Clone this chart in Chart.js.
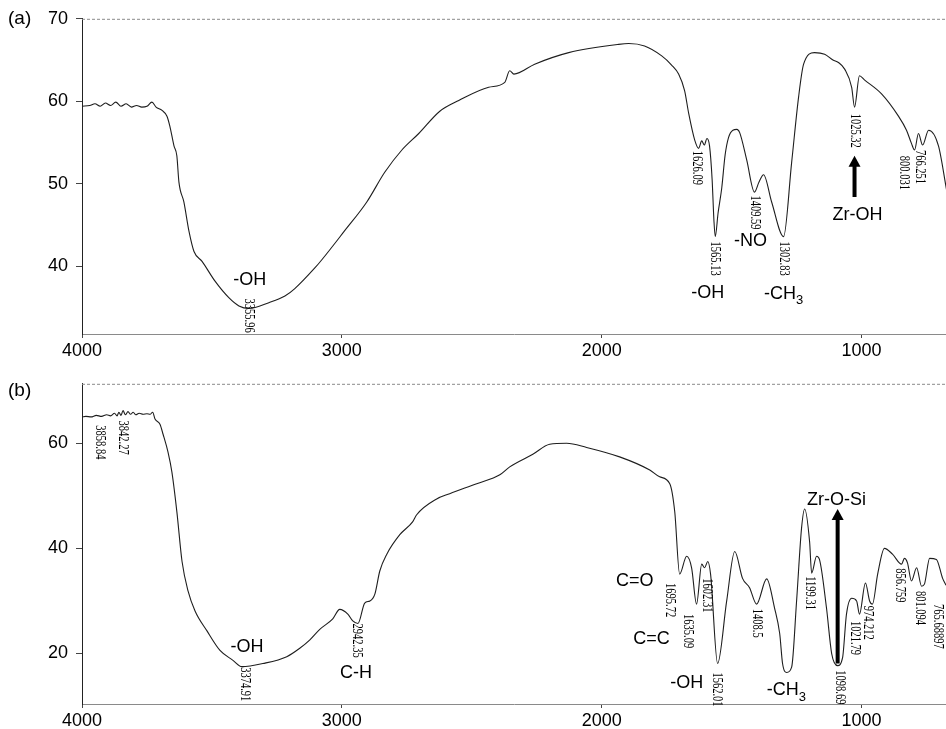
<!DOCTYPE html>
<html>
<head>
<meta charset="utf-8">
<style>
    html, body { margin: 0; padding: 0; background: #fff; }
    #wrap { position: relative; width: 946px; height: 729px; }
    canvas { position: absolute; left: 0; }
    #chartA { top: 0; }
    #chartB { top: 365px; }
</style>
</head>
<body>
<div id="wrap">
    <canvas id="chartA" width="946" height="365"></canvas>
    <canvas id="chartB" width="946" height="364"></canvas>
</div>
<script src="https://cdn.jsdelivr.net/npm/chart.js@4"></script>
<script>
    // x axis (wavenumber, cm-1) shared by both panels
    const xTicks = [4000, 3000, 2000, 1000];
    const xMin = 675, xMax = 4000;

    // (a) spectrum
    const waveA = [4000, 3970, 3950, 3930, 3910, 3890, 3870, 3850, 3830, 3810, 3790, 3770, 3750, 3731, 3715,
        3692, 3673, 3662, 3646, 3635, 3627, 3608, 3588, 3569, 3538, 3488, 3435, 3396, 3358, 3281, 3219, 3181,
        3104, 3077, 2992, 2904, 2835, 2769, 2704, 2623, 2550, 2435, 2373, 2354, 2338, 2258, 2127, 1935, 1896,
        1835, 1769, 1731, 1704, 1681, 1665, 1642, 1627, 1615, 1605, 1595, 1585, 1575, 1568, 1563, 1552, 1538,
        1525, 1512, 1495, 1480, 1469, 1442, 1412, 1395, 1377, 1346, 1300, 1269, 1242, 1223, 1181, 1142, 1110,
        1089, 1065, 1038, 1027, 1008, 989, 923, 858, 827, 808, 796, 781, 765, 742, 704, 673];
    const transA = [59.4, 59.5, 59.7, 59.4, 59.8, 59.5, 59.9, 59.4, 59.7, 59.3, 59.5, 59.3, 59.4, 59.9, 59.3,
        58.9, 58.2, 57.0, 54.6, 53.4, 50.2, 47.8, 44.2, 41.8, 40.6, 38.2, 36.2, 35.2, 34.9, 35.6, 36.4, 37.3,
        39.8, 40.8, 44.2, 47.8, 51.4, 54.1, 56.1, 58.8, 60.1, 61.7, 62.3, 63.7, 63.3, 64.5, 65.9, 66.9, 67.0,
        66.7, 65.5, 64.4, 63.3, 61.3, 58.5, 55.3, 54.3, 55.2, 54.7, 55.5, 54.6, 50.5, 45.5, 43.6, 46.5, 49.5,
        53.5, 55.6, 56.5, 56.6, 56.2, 52.9, 49.0, 50.2, 51.1, 47.8, 43.6, 52.6, 60.6, 64.5, 65.9, 65.7, 65.0,
        64.7, 63.9, 61.7, 59.3, 63.1, 62.6, 60.9, 58.2, 56.5, 54.9, 54.1, 56.1, 54.7, 56.5, 54.6, 49.3];
    const yTicksA = [40, 50, 60, 70];
    const yMinA = 31.8, yMaxA = 70;

    // (b) spectrum
    const waveB = [4000, 3985, 3965, 3945, 3925, 3905, 3890, 3875, 3865, 3858, 3850, 3842, 3833, 3823, 3813,
        3803, 3793, 3780, 3765, 3750, 3738, 3728, 3719, 3700, 3688, 3669, 3654, 3635, 3615, 3592, 3565, 3519,
        3469, 3419, 3385, 3304, 3212, 3162, 3123, 3085, 3035, 3008, 2977, 2958, 2938, 2912, 2892, 2873, 2854,
        2827, 2777, 2727, 2712, 2635, 2585, 2481, 2392, 2354, 2265, 2200, 2135, 2058, 1931, 1815, 1777, 1738,
        1719, 1700, 1673, 1654, 1635, 1615, 1604, 1592, 1581, 1554, 1519, 1488, 1458, 1431, 1404, 1365, 1335,
        1315, 1304, 1288, 1269, 1250, 1231, 1219, 1200, 1192, 1173, 1162, 1135, 1115, 1092, 1073, 1058, 1038,
        1019, 1008, 985, 969, 958, 938, 912, 881, 846, 835, 823, 808, 788, 769, 758, 738, 712, 688, 675];
    const transB = [65.0, 65.1, 65.0, 65.3, 65.1, 65.4, 65.2, 65.7, 65.2, 65.9, 65.3, 66.2, 65.4, 66.0, 65.5,
        65.9, 65.4, 65.7, 65.5, 65.6, 65.5, 65.9, 64.6, 63.6, 61.7, 58.3, 54.5, 47.0, 37.5, 31.9, 28.1, 24.3,
        20.6, 18.7, 17.5, 18.1, 19.4, 21.0, 22.6, 24.6, 26.6, 28.4, 27.5, 26.2, 25.7, 29.6, 30.0, 31.3, 35.7,
        38.9, 42.6, 45.1, 46.4, 49.4, 50.4, 52.3, 54.0, 55.5, 57.9, 59.8, 60.0, 59.2, 57.4, 54.9, 53.6, 52.3,
        47.0, 35.1, 38.5, 36.3, 29.4, 37.0, 36.3, 37.5, 35.1, 18.1, 30.0, 39.4, 34.3, 32.5, 29.4, 34.2, 28.7,
        23.8, 18.1, 16.4, 17.4, 30.0, 43.8, 47.5, 41.3, 35.3, 38.5, 37.9, 28.7, 20.0, 17.7, 19.2, 27.5, 30.5,
        30.0, 27.5, 33.4, 30.0, 29.4, 35.1, 40.0, 38.9, 37.0, 38.1, 37.2, 33.8, 36.3, 32.8, 33.2, 38.1, 37.9, 34.3, 33.0];
    const yTicksB = [20, 40, 60];
    const yMinB = 10.4, yMaxB = 71.3;

    // peak labels: [text, wavenumber, y at top of label]
    const peaksA = [['3355.96', 3358, 36.1], ['1626.09', 1635, 54.0], ['1565.13', 1565, 43.0],
        ['1409.59', 1412, 48.6], ['1302.83', 1300, 43.0], ['1025.32', 1027, 58.5],
        ['800.031', 838, 53.4], ['766.251', 777, 54.1]];
    const peaksB = [['3858.84', 3931, 63.4], ['3842.27', 3842, 64.3], ['3374.91', 3373, 17.4],
        ['2942.35', 2942, 25.7], ['1695.72', 1738, 33.4], ['1635.09', 1669, 27.5], ['1602.31', 1596, 34.3],
        ['1562.01', 1558, 16.4], ['1408.5', 1404, 28.5], ['1199.31', 1200, 34.7], ['1098.69', 1085, 16.8],
        ['1021.79', 1027, 26.2], ['974.212', 977, 29.1], ['856.759', 854, 36.2], ['801.094', 777, 31.9],
        ['765.68897', 708, 29.4]];

    // group labels: [text, subscript, wavenumber, y centre]
    const groupsA = [['-OH', '', 3354, 38.3], ['-OH', '', 1592, 36.8], ['-NO', '', 1427, 43.1],
        ['-CH', '3', 1300, 36.7], ['Zr-OH', '', 1016, 46.2]];
    const groupsB = [['-OH', '', 3365, 21.3], ['C-H', '', 2946, 16.2], ['C=O', '', 1873, 33.8],
        ['C=C', '', 1808, 22.8], ['-OH', '', 1673, 14.3], ['-CH', '3', 1289, 13.0], ['Zr-O-Si', '', 1096, 49.2]];

    // arrows: [wavenumber, y tail, y tip]
    const arrowA = [1027, 48.4, 53.4];
    const arrowB = [1092, 18.1, 47.5];

    const sans = '"Liberation Sans", Arial, sans-serif';

    // 주석 그리기 플러그인
    const annotate = {
        id: 'annotate',
        afterDraw(chart, args, opts) {
            const ctx = chart.ctx;
            const area = chart.chartArea;
            const x = chart.scales.x, y = chart.scales.y;
            ctx.save();

            // dotted top frame line
            ctx.strokeStyle = '#8a8a8a';
            ctx.lineWidth = 1;
            ctx.setLineDash([3, 2]);
            ctx.beginPath();
            ctx.moveTo(area.left, area.top + 0.5);
            ctx.lineTo(area.right, area.top + 0.5);
            ctx.stroke();
            ctx.setLineDash([]);

            ctx.fillStyle = '#000';
            ctx.font = '19px ' + sans;
            ctx.textAlign = 'left';
            ctx.textBaseline = 'middle';
            ctx.fillText(opts.letter, 8, opts.letterY);

            // rotated peak values
            ctx.font = '14px "Liberation Serif", serif';
            opts.peaks.forEach(p => {
                ctx.save();
                ctx.translate(x.getPixelForValue(p[1]), y.getPixelForValue(p[2]));
                ctx.rotate(Math.PI / 2);
                ctx.scale(0.75, 1);
                ctx.textAlign = 'left';
                ctx.textBaseline = 'middle';
                ctx.fillText(p[0], 0, 0);
                ctx.restore();
            });

            // functional group labels
            opts.groups.forEach(g => {
                const px = x.getPixelForValue(g[2]), py = y.getPixelForValue(g[3]);
                ctx.font = '18px ' + sans;
                const w1 = ctx.measureText(g[0]).width;
                ctx.font = '13px ' + sans;
                const w2 = g[1] ? ctx.measureText(g[1]).width : 0;
                const left = px - (w1 + w2) / 2;
                ctx.textAlign = 'left';
                ctx.textBaseline = 'middle';
                ctx.font = '18px ' + sans;
                ctx.fillText(g[0], left, py);
                if (g[1]) {
                    ctx.font = '13px ' + sans;
                    ctx.fillText(g[1], left + w1, py + 7);
                }
            });

            // thick arrow
            const a = opts.arrow;
            const ax = x.getPixelForValue(a[0]);
            const yTail = y.getPixelForValue(a[1]), yTip = y.getPixelForValue(a[2]);
            ctx.strokeStyle = '#000';
            ctx.lineWidth = 4;
            ctx.beginPath();
            ctx.moveTo(ax, yTail);
            ctx.lineTo(ax, yTip + 9);
            ctx.stroke();
            ctx.beginPath();
            ctx.moveTo(ax, yTip);
            ctx.lineTo(ax - 6, yTip + 11);
            ctx.lineTo(ax + 6, yTip + 11);
            ctx.closePath();
            ctx.fill();

            ctx.restore();
        }
    };

    function makeChart(canvasId, wave, trans, yMin, yMax, yTicks, padTop, xHeight, annot) {
        const points = wave.map((w, i) => ({ x: w, y: trans[i] }));
        return new Chart(document.getElementById(canvasId), {
            type: 'line',
            data: {
                datasets: [{
                    data: points,
                    borderColor: '#1e1e1e',
                    borderWidth: 1.1,
                    pointRadius: 0,
                    fill: false,
                    cubicInterpolationMode: 'monotone'
                }]
            },
            options: {
                responsive: false,
                animation: false,
                devicePixelRatio: 1,
                layout: { padding: { top: padTop, right: 0, left: 0, bottom: 0 } },
                plugins: { legend: { display: false }, tooltip: { enabled: false }, annotate: annot },
                scales: {
                    x: {
                        type: 'linear',
                        reverse: true,
                        min: xMin,
                        max: xMax,
                        afterBuildTicks: s => { s.ticks = xTicks.map(v => ({ value: v })); },
                        afterFit: s => { s.height = xHeight; },
                        grid: { drawOnChartArea: false, drawTicks: true, tickLength: 4, color: '#444' },
                        border: { color: '#8a8a8a', dash: [3, 2] },
                        ticks: { color: '#000', font: { family: sans, size: 18 }, padding: 2,
                                 maxRotation: 0, autoSkip: false, callback: v => String(v) }
                    },
                    y: {
                        min: yMin,
                        max: yMax,
                        afterBuildTicks: s => { s.ticks = yTicks.map(v => ({ value: v })); },
                        afterFit: s => { s.width = 82; },
                        grid: { drawOnChartArea: false, drawTicks: true, tickLength: 6, color: '#444' },
                        border: { color: '#222' },
                        ticks: { color: '#000', font: { family: sans, size: 18 }, padding: 8 }
                    }
                }
            },
            plugins: [annotate]
        });
    }

    makeChart('chartA', waveA, transA, yMinA, yMaxA, yTicksA, 14, 31,
        { letter: '(a)', letterY: 19, peaks: peaksA, groups: groupsA, arrow: arrowA });
    makeChart('chartB', waveB, transB, yMinB, yMaxB, yTicksB, 16, 25,
        { letter: '(b)', letterY: 26, peaks: peaksB, groups: groupsB, arrow: arrowB });
</script>
</body>
</html>
